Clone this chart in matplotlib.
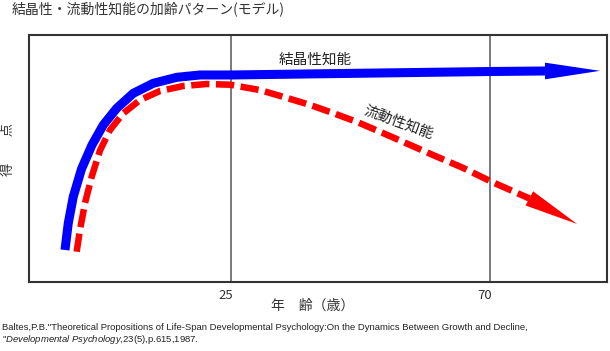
#!/usr/bin/env python3
# crystallized vs fluid intelligence, age pattern (model) - Baltes 1987
import matplotlib
matplotlib.use("Agg")
import matplotlib.pyplot as plt
import matplotlib.transforms as mtransforms

plt.rcParams['font.family'] = ['Noto Sans CJK JP', 'DejaVu Sans']
plt.rcParams['mathtext.fontset'] = 'custom'
plt.rcParams['mathtext.rm'] = 'Liberation Sans'
plt.rcParams['mathtext.it'] = 'Liberation Sans:italic'

# age (years) / score (arbitrary 0-100)
cryst_age = [-3.84, -3.27, -2.40, -0.97, 0.85, 2.81, 5.14, 8.03, 11.50,
             15.57, 19.61, 25.0, 70.0, 79.56]
cryst_score = [12.96, 23.77, 34.53, 45.75, 55.47, 63.56, 70.32, 76.40,
               80.45, 82.87, 83.81, 83.81, 85.22, 85.43]
cryst_tip = (89.11, 85.5)

fluid_age = [-1.81, -1.24, -0.37, 0.80, 2.24, 3.98, 6.29, 9.19, 12.66,
             16.71, 20.78, 24.83, 30.04, 34.03, 38.73, 42.72, 46.89,
             51.41, 56.10, 60.10, 65.31, 70.35, 76.86]
fluid_score = [12.27, 21.05, 31.86, 42.63, 53.24, 61.54, 68.30, 73.68,
               77.33, 79.35, 80.16, 79.88, 77.7, 75.0, 71.7, 68.4, 64.8,
               60.3, 55.5, 51.4, 46.2, 40.5, 33.8]
fluid_tip = (85.12, 23.5)

ref_ages = [25, 70]
ref_labels = ['25', '70']

title = '結晶性・流動性知能の加齢パターン(モデル)'
cite1 = ('Baltes,P.B."Theoretical Propositions of Life-Span Developmental '
         'Psychology:On the Dynamics Between Growth and Decline,')
cite2 = r'"$\mathit{Developmental\ Psychology}$,23(5),p.615,1987.'

BLUE = '#0000ff'
RED = '#ff0000'
GREY = '#333333'

fig = plt.figure(figsize=(6.10, 3.51), dpi=100)
ax = fig.add_axes([29/610, 1-282/351, 578/610, 247/351])
ax.set_xlim(-10.09, 90.32)
ax.set_ylim(0, 100)

for a in ref_ages:
    ax.axvline(a, color='#555555', lw=1.1, zorder=1)

ax.plot(cryst_age, cryst_score, color=BLUE, lw=6.5,
        solid_capstyle='butt', solid_joinstyle='round', zorder=3)
ax.annotate('', xy=cryst_tip, xytext=(cryst_age[-1], cryst_score[-1]),
            arrowprops=dict(arrowstyle='-|>,head_length=39.6,head_width=6.0',
                            mutation_scale=1, color=BLUE, lw=0,
                            shrinkA=0, shrinkB=0), zorder=3)

ax.plot(fluid_age, fluid_score, color=RED, lw=4.7, dashes=(2.8, 1.0),
        dash_capstyle='butt', dash_joinstyle='round', zorder=2)
ax.annotate('', xy=fluid_tip, xytext=(fluid_age[-1], fluid_score[-1]),
            arrowprops=dict(arrowstyle='-|>,head_length=39.0,head_width=5.8',
                            mutation_scale=1, color=RED, lw=0,
                            shrinkA=0, shrinkB=0), zorder=2)

ax.text(39.6, 89.9, '結晶性知能', fontsize=10.5, color='#222222',
        ha='center', va='center')
ax.text(54.2, 64.4, '流動性知能', fontsize=10.5, color='#222222',
        ha='center', va='center', rotation=-20, rotation_mode='anchor')

ax.set_xticks(ref_ages)
ax.set_xticklabels(ref_labels, fontsize=9.5, color=GREY)
ax.tick_params(axis='x', length=0, pad=5)
ax.set_yticks([])
shift = mtransforms.ScaledTranslation(-5/100, 0, fig.dpi_scale_trans)
for lab in ax.get_xticklabels():
    lab.set_transform(lab.get_transform() + shift)
for sp in ax.spines.values():
    sp.set_linewidth(1.5)
    sp.set_color(GREY)

fig.text(12/610, 1-9/351, title, fontsize=10, color=GREY,
         ha='left', va='center')
fig.text(9/610, 1-150/351, '得　　点', fontsize=9.5, color=GREY,
         rotation=90, ha='center', va='center')
fig.text(271/610, 1-306/351, '年　齢（歳）', fontsize=10, color=GREY,
         ha='left', va='center')
fig.text(2/610, 1-327/351, cite1, fontsize=6.8, color='#222222',
         family='Liberation Sans', ha='left', va='center')
fig.text(2/610, 1-340/351, cite2, fontsize=6.8, color='#222222',
         family='Liberation Sans', ha='left', va='center')

fig.savefig('out.png', dpi=100)
